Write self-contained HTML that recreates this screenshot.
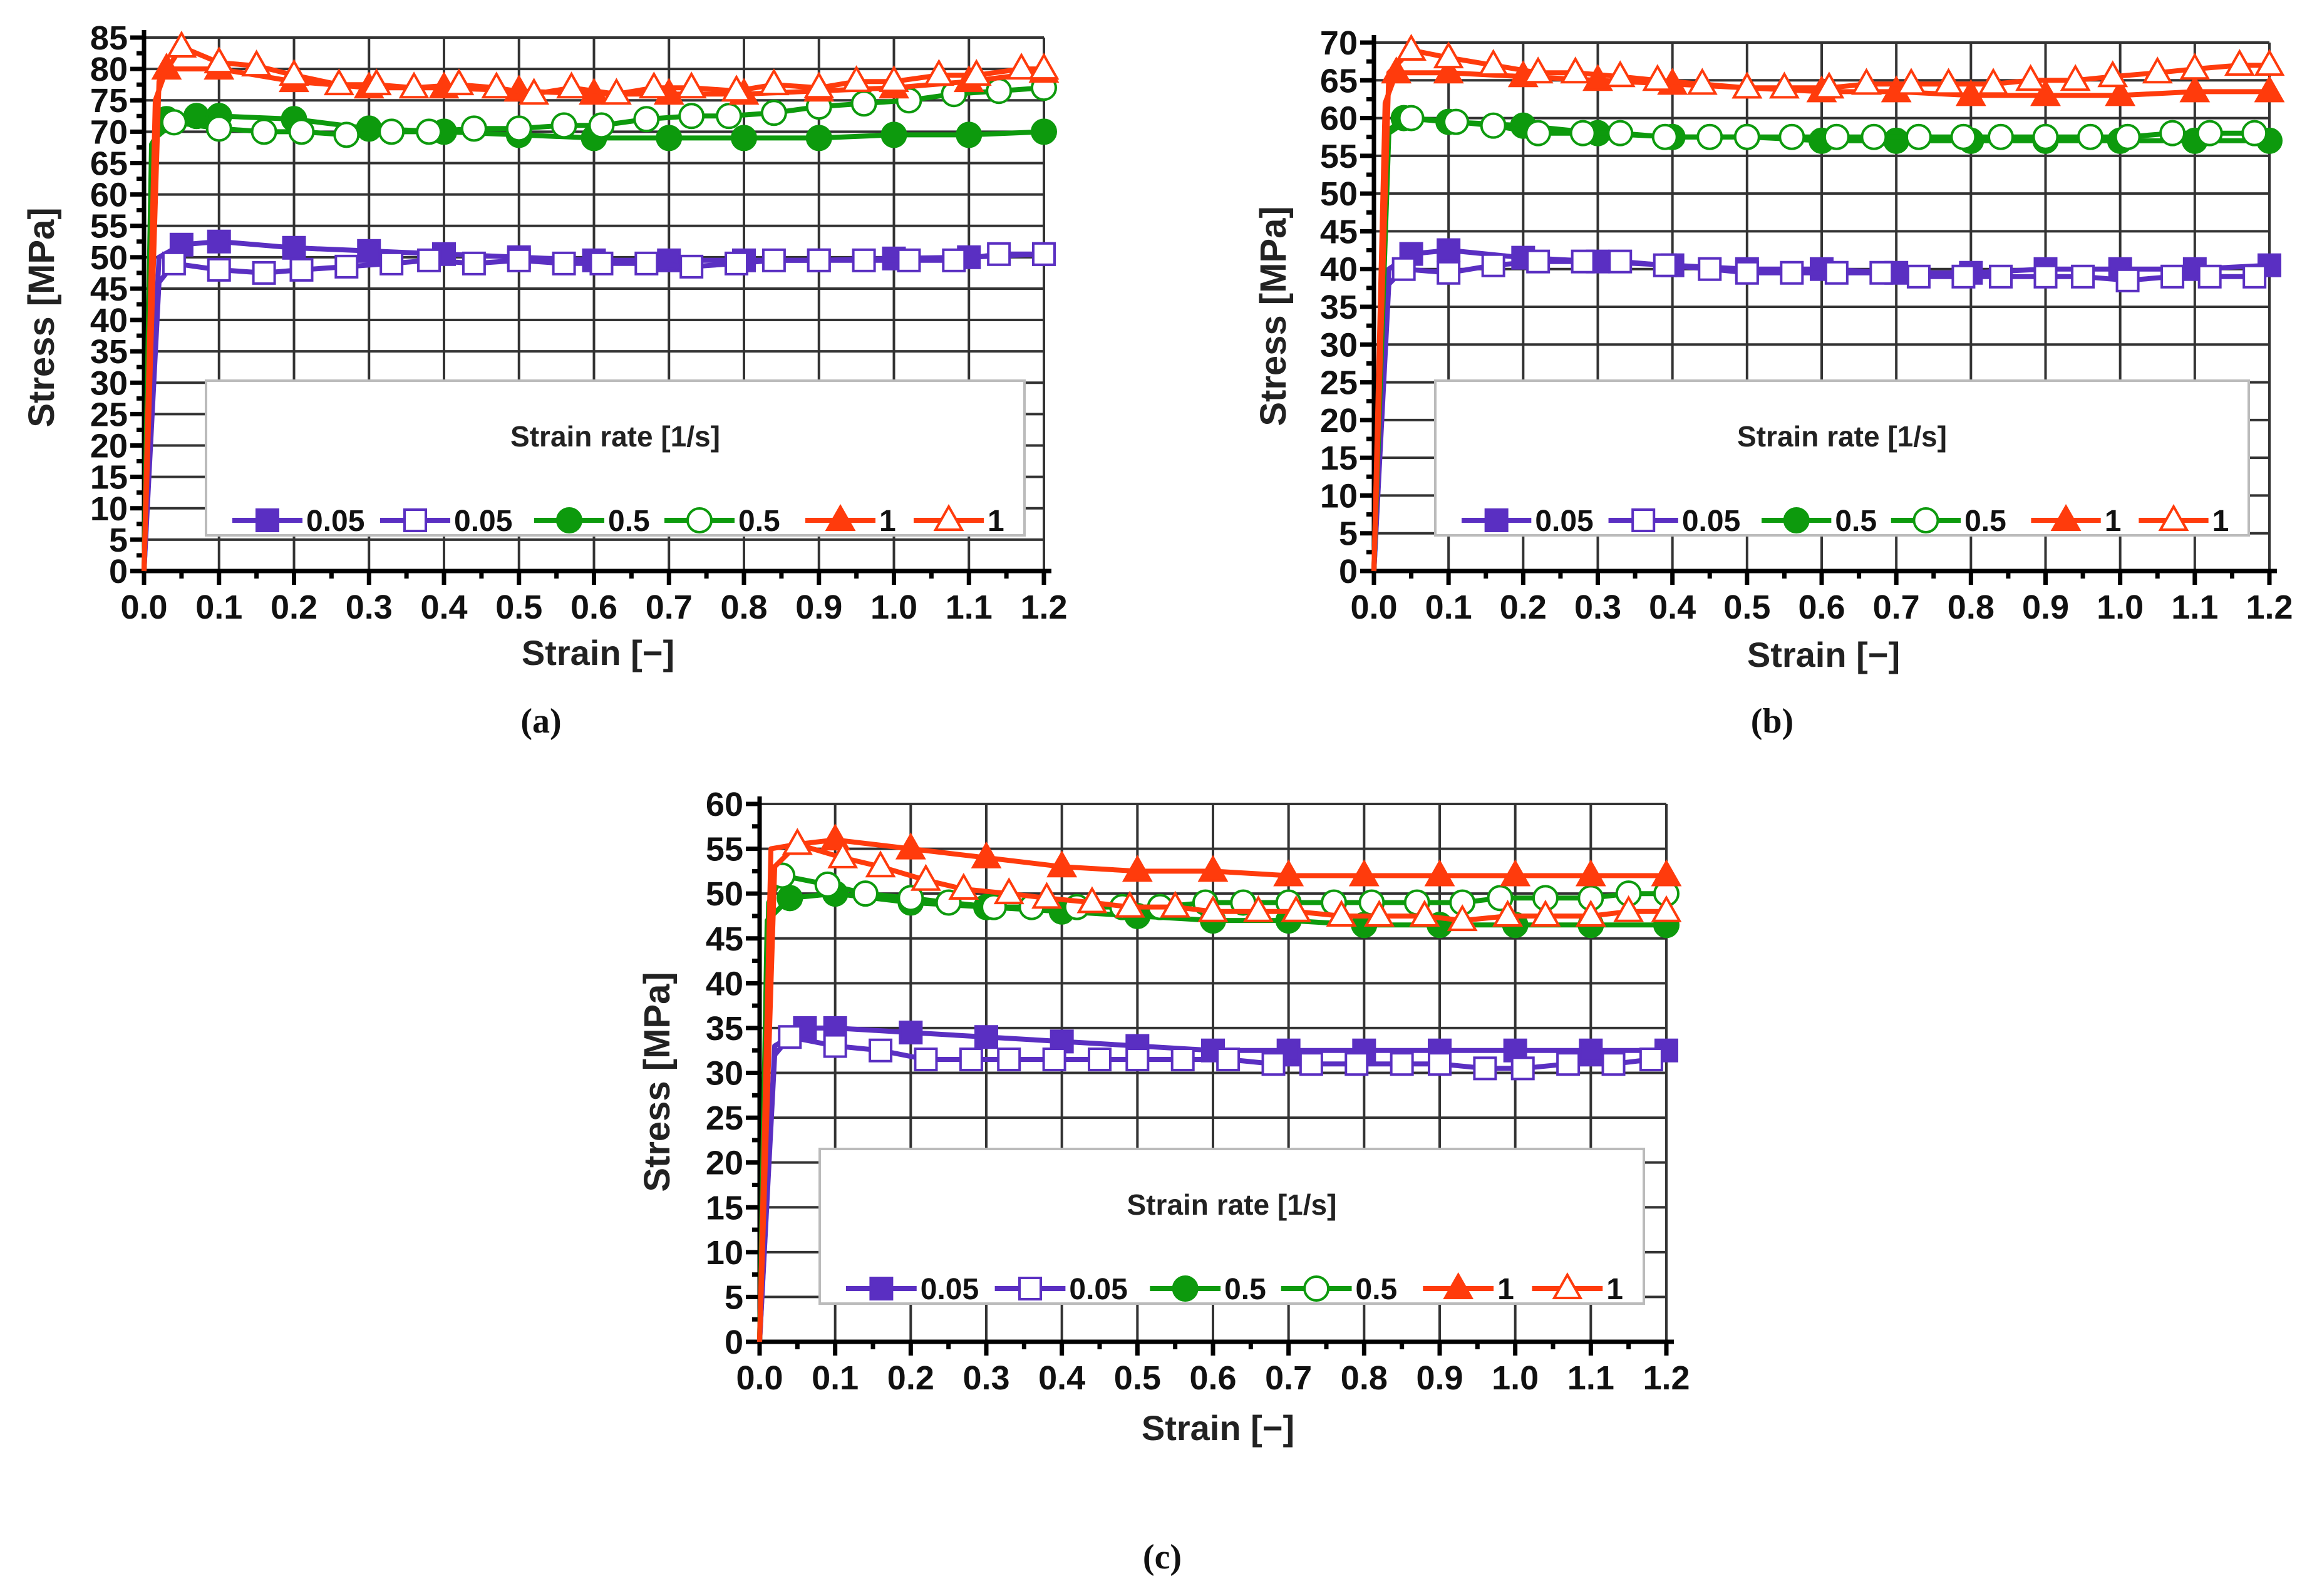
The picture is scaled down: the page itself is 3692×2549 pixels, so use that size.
<!DOCTYPE html>
<html><head><meta charset="utf-8">
<style>
html,body{margin:0;padding:0;background:#fff;}
svg{display:block;font-family:"Liberation Sans",sans-serif;}
</style></head>
<body>
<svg id="fig" width="3692" height="2549" viewBox="0 0 3692 2549" xmlns="http://www.w3.org/2000/svg"></svg>
<script>
// ---- data: plot (a)
const a_f005=[[0,0],[0.02,50],[0.05,52],[0.1,52.5],[0.2,51.5],[0.3,51],[0.4,50.5],[0.5,50],[0.6,49.5],[0.7,49.5],[0.8,49.5],[0.9,49.5],[1.0,49.8],[1.1,50],[1.2,50.5]];
const a_o005=[[0,0],[0.02,46],[0.04,49],[0.1,48],[0.16,47.5],[0.21,48],[0.27,48.5],[0.33,49],[0.38,49.5],[0.44,49],[0.5,49.5],[0.56,49],[0.61,49],[0.67,49],[0.73,48.5],[0.79,49],[0.84,49.5],[0.9,49.5],[0.96,49.5],[1.02,49.5],[1.08,49.5],[1.14,50.5],[1.2,50.5]];
const a_f05=[[0,0],[0.01,68],[0.03,72],[0.07,72.5],[0.1,72.5],[0.2,72],[0.3,70.5],[0.4,70],[0.5,69.5],[0.6,69],[0.7,69],[0.8,69],[0.9,69],[1.0,69.5],[1.1,69.5],[1.2,70]];
const a_o05=[[0,0],[0.015,69],[0.04,71.5],[0.1,70.5],[0.16,70],[0.21,70],[0.27,69.5],[0.33,70],[0.38,70],[0.44,70.5],[0.5,70.5],[0.56,71],[0.61,71],[0.67,72],[0.73,72.5],[0.78,72.5],[0.84,73],[0.9,74],[0.96,74.5],[1.02,75],[1.08,76],[1.14,76.5],[1.2,77]];
const a_f1=[[0,0],[0.015,75],[0.03,80],[0.1,80],[0.2,78],[0.3,77],[0.4,77],[0.5,76.5],[0.6,76],[0.7,76],[0.8,76],[0.9,76.5],[1.0,77],[1.1,78],[1.2,79.5]];
const a_o1=[[0,0],[0.02,78],[0.05,83.5],[0.1,81],[0.15,80.5],[0.2,79],[0.26,77.5],[0.31,77.5],[0.36,77],[0.42,77.5],[0.47,77],[0.52,76],[0.57,77],[0.63,76],[0.68,77],[0.73,77],[0.79,76.5],[0.84,77.5],[0.9,77],[0.95,78],[1.0,78],[1.06,79],[1.11,79],[1.17,80],[1.2,80]];
// ---- data: plot (b)
const b_f005=[[0,0],[0.02,40],[0.05,42],[0.1,42.5],[0.2,41.5],[0.3,41],[0.4,40.5],[0.5,40],[0.6,40],[0.7,39.5],[0.8,39.5],[0.9,40],[1.0,40],[1.1,40],[1.2,40.5]];
const b_o005=[[0,0],[0.02,38],[0.04,40],[0.1,39.5],[0.16,40.5],[0.22,41],[0.28,41],[0.33,41],[0.39,40.5],[0.45,40],[0.5,39.5],[0.56,39.5],[0.62,39.5],[0.68,39.5],[0.73,39],[0.79,39],[0.84,39],[0.9,39],[0.95,39],[1.01,38.5],[1.07,39],[1.12,39],[1.18,39]];
const b_f05=[[0,0],[0.015,58],[0.04,60],[0.1,59.5],[0.2,59],[0.3,58],[0.4,57.5],[0.5,57.5],[0.6,57],[0.7,57],[0.8,57],[0.9,57],[1.0,57],[1.1,57],[1.2,57]];
const b_o05=[[0,0],[0.02,58],[0.05,60],[0.11,59.5],[0.16,59],[0.22,58],[0.28,58],[0.33,58],[0.39,57.5],[0.45,57.5],[0.5,57.5],[0.56,57.5],[0.62,57.5],[0.67,57.5],[0.73,57.5],[0.79,57.5],[0.84,57.5],[0.9,57.5],[0.96,57.5],[1.01,57.5],[1.07,58],[1.12,58],[1.18,58]];
const b_f1=[[0,0],[0.015,62],[0.03,66],[0.1,66],[0.2,65.5],[0.3,65],[0.4,64.5],[0.5,64],[0.6,63.5],[0.7,63.5],[0.8,63],[0.9,63],[1.0,63],[1.1,63.5],[1.2,63.5]];
const b_o1=[[0,0],[0.02,66],[0.05,69],[0.1,68],[0.16,67],[0.22,66],[0.27,66],[0.33,65.5],[0.38,65],[0.44,64.5],[0.5,64],[0.55,64],[0.61,64],[0.66,64.5],[0.72,64.5],[0.77,64.5],[0.83,64.5],[0.88,65],[0.94,65],[0.99,65.5],[1.05,66],[1.1,66.5],[1.16,67],[1.2,67]];
// ---- data: plot (c)
const c_f005=[[0,0],[0.02,33],[0.06,35],[0.1,35],[0.2,34.5],[0.3,34],[0.4,33.5],[0.5,33],[0.6,32.5],[0.7,32.5],[0.8,32.5],[0.9,32.5],[1.0,32.5],[1.1,32.5],[1.2,32.5]];
const c_o005=[[0,0],[0.02,32],[0.04,34],[0.1,33],[0.16,32.5],[0.22,31.5],[0.28,31.5],[0.33,31.5],[0.39,31.5],[0.45,31.5],[0.5,31.5],[0.56,31.5],[0.62,31.5],[0.68,31],[0.73,31],[0.79,31],[0.85,31],[0.9,31],[0.96,30.5],[1.01,30.5],[1.07,31],[1.13,31],[1.18,31.5]];
const c_f05=[[0,0],[0.01,47],[0.04,49.5],[0.1,50],[0.2,49],[0.3,48.5],[0.4,48],[0.5,47.5],[0.6,47],[0.7,47],[0.8,46.5],[0.9,46.5],[1.0,46.5],[1.1,46.5],[1.2,46.5]];
const c_o05=[[0,0],[0.012,49],[0.03,52],[0.09,51],[0.14,50],[0.2,49.5],[0.25,49],[0.31,48.5],[0.36,48.5],[0.42,48.5],[0.48,48.5],[0.53,48.5],[0.59,49],[0.64,49],[0.7,49],[0.76,49],[0.81,49],[0.87,49],[0.93,49],[0.98,49.5],[1.04,49.5],[1.1,49.5],[1.15,50],[1.2,50]];
const c_f1=[[0,0],[0.015,55],[0.05,55.5],[0.1,56],[0.2,55],[0.3,54],[0.4,53],[0.5,52.5],[0.6,52.5],[0.7,52],[0.8,52],[0.9,52],[1.0,52],[1.1,52],[1.2,52]];
const c_o1=[[0,0],[0.02,53],[0.05,55.5],[0.11,54],[0.16,53],[0.22,51.5],[0.27,50.5],[0.33,50],[0.38,49.5],[0.44,49],[0.49,48.5],[0.55,48.5],[0.6,48],[0.66,48],[0.71,48],[0.77,47.5],[0.82,47.5],[0.88,47.5],[0.93,47],[0.99,47.5],[1.04,47.5],[1.1,47.5],[1.15,48],[1.2,48]];
const xTicks=[0,0.1,0.2,0.3,0.4,0.5,0.6,0.7,0.8,0.9,1.0,1.1,1.2];
const xTickLabels=["0.0","0.1","0.2","0.3","0.4","0.5","0.6","0.7","0.8","0.9","1.0","1.1","1.2"];
const legendLabels=["0.05","0.05","0.5","0.5","1","1"];

const NS="http://www.w3.org/2000/svg";
const svg=document.getElementById('fig');
function mk(tag,attrs,parent){const e=document.createElementNS(NS,tag);for(const k in attrs)e.setAttribute(k,attrs[k]);(parent||svg).appendChild(e);return e;}
const PUR="#5a2fc2",GRN="#0d9a0d",RED="#ff3b0c";
const styles=[{c:PUR,m:"sq",f:true},{c:PUR,m:"sq",f:false},{c:GRN,m:"ci",f:true},{c:GRN,m:"ci",f:false},{c:RED,m:"tr",f:true},{c:RED,m:"tr",f:false}];

function marker(g,type,cx,cy,col,filled){
  const fill=filled?col:"#fff",sw=4;let e;
  if(type==="sq"){e=mk('rect',{x:cx-17,y:cy-17,width:34,height:34,fill:fill,stroke:col,'stroke-width':sw},g);}
  else if(type==="ci"){e=mk('circle',{cx:cx,cy:cy,r:19,fill:fill,stroke:col,'stroke-width':sw},g);}
  else {e=mk('polygon',{points:`${cx},${cy-22} ${cx+21},${cy+15} ${cx-21},${cy+15}`,fill:fill,stroke:col,'stroke-width':sw},g);}
  return e;
}

function plot(id,L,R,T,B,ymax,series,leg,stressPos,strainPos,cap){
  const g=mk('g',{});
  
  
  const xs=v=>L+(R-L)*v/1.2, ys=v=>B-(B-T)*v/ymax;
  // grid
  const grid=mk('g',{stroke:"#333",'stroke-width':4},g);
  
  
  xTicks.forEach(t=>{if(t>0)mk('line',{x1:xs(t),x2:xs(t),y1:T,y2:B},grid);});
  for(let v=5;v<=ymax;v+=5)mk('line',{x1:L,x2:R,y1:ys(v),y2:ys(v)},grid);
  // axes ticks
  const ax=mk('g',{stroke:"#000",'stroke-width':7},g);
  
  
  mk('line',{x1:L,x2:L,y1:T-12,y2:B+4},ax);
  mk('line',{x1:L-4,x2:R+12,y1:B,y2:B},ax);
  for(let v=0;v<=ymax;v+=2.5){const maj=(v%5===0);mk('line',{x1:L-(maj?22:12),x2:L,y1:ys(v),y2:ys(v)},ax);}
  for(let i=0;i<=24;i++){const v=i*0.05;const maj=(i%2===0);mk('line',{x1:xs(v),x2:xs(v),y1:B,y2:B+(maj?22:12)},ax);}
  // tick labels
  const tl=mk('g',{'font-size':54,'font-weight':'bold',fill:'#111'},g);
  for(let v=0;v<=ymax;v+=5){const t=mk('text',{x:L-26,y:ys(v)+19,'text-anchor':'end'},tl);t.textContent=v;
    }
  xTicks.forEach((v,i)=>{const t=mk('text',{x:xs(v),y:B+76,'text-anchor':'middle'},tl);t.textContent=xTickLabels[i];
    });
  // legend box
  const lg=mk('g',{},g);
  
  
  mk('rect',{x:leg[0],y:leg[1],width:leg[2]-leg[0],height:leg[3]-leg[1],fill:'#fff',stroke:'#bbb','stroke-width':4},lg);
  const lt=mk('text',{x:(leg[0]+leg[2])/2,y:leg[1]+105,'text-anchor':'middle','font-size':46,'font-weight':'bold',fill:'#222'},lg);
  lt.textContent="Strain rate [1/s]";
  
  
  const offs=[[0,220],[236,454],[482,603],[690,811],[915,1035],[1088,1208]];
  const ly=leg[3]-24, base=leg[0]+42, sc=(leg[2]-leg[0])/1307;
  offs.forEach((o,i)=>{
    const s=styles[i];const e=mk('g',{},lg);
    
    
    const x0=base+o[0]*sc, x1=x0+112*sc;
    mk('line',{x1:x0,x2:x1,y1:ly,y2:ly,stroke:s.c,'stroke-width':8},e);
    marker(e,s.m,(x0+x1)/2,ly,s.c,s.f);
    const t=mk('text',{x:x1+6,y:ly+17,'font-size':48,'font-weight':'bold',fill:'#111'},e);t.textContent=legendLabels[i];
  });
  // series
  series.forEach((data,i)=>{
    const s=styles[i];const sg=mk('g',{},g);
    
    
    const d=data.map((p,j)=>(j?'L':'M')+xs(p[0]).toFixed(1)+','+ys(p[1]).toFixed(1)).join(' ');
    mk('path',{d:d,fill:'none',stroke:s.c,'stroke-width':8,'stroke-linejoin':'round'},sg);
    data.forEach(p=>{if(p[0]>=0.03){const m=marker(sg,s.m,xs(p[0]),ys(p[1]),s.c,s.f);
      }});
  });
  // axis titles
  const yt=mk('text',{x:stressPos[0],y:stressPos[1],'text-anchor':'middle','font-size':58,'font-weight':'bold',fill:'#222',transform:`rotate(-90 ${stressPos[0]} ${stressPos[1]})`},g);
  yt.textContent="Stress [MPa]";
  
  
  const xt=mk('text',{x:strainPos[0],y:strainPos[1],'text-anchor':'middle','font-size':56,'font-weight':'bold',fill:'#222'},g);
  xt.textContent="Strain [\u2212]";
  
  
  const ct=mk('text',{x:cap[0],y:cap[1],'text-anchor':'middle','font-size':56,'font-weight':'bold','font-family':'Liberation Serif, serif',fill:'#111'},g);
  ct.textContent=cap[2];
  
  
}
plot('a',230,1667,60,912,85,[a_f005,a_o005,a_f05,a_o05,a_f1,a_o1],[329,608,1636,855],[86,507],[955,1062],[864,1170,"(a)"]);
plot('b',2194,3624,68,912,70,[b_f005,b_o005,b_f05,b_o05,b_f1,b_o1],[2292,608,3591,855],[2053,505],[2912,1065],[2830,1170,"(b)"]);
plot('c',1213,2661,1284,2143,60,[c_f005,c_o005,c_f05,c_o05,c_f1,c_o1],[1309,1835,2625,2082],[1069,1728],[1945,2300],[1856,2505,"(c)"]);
</script>
</body></html>
